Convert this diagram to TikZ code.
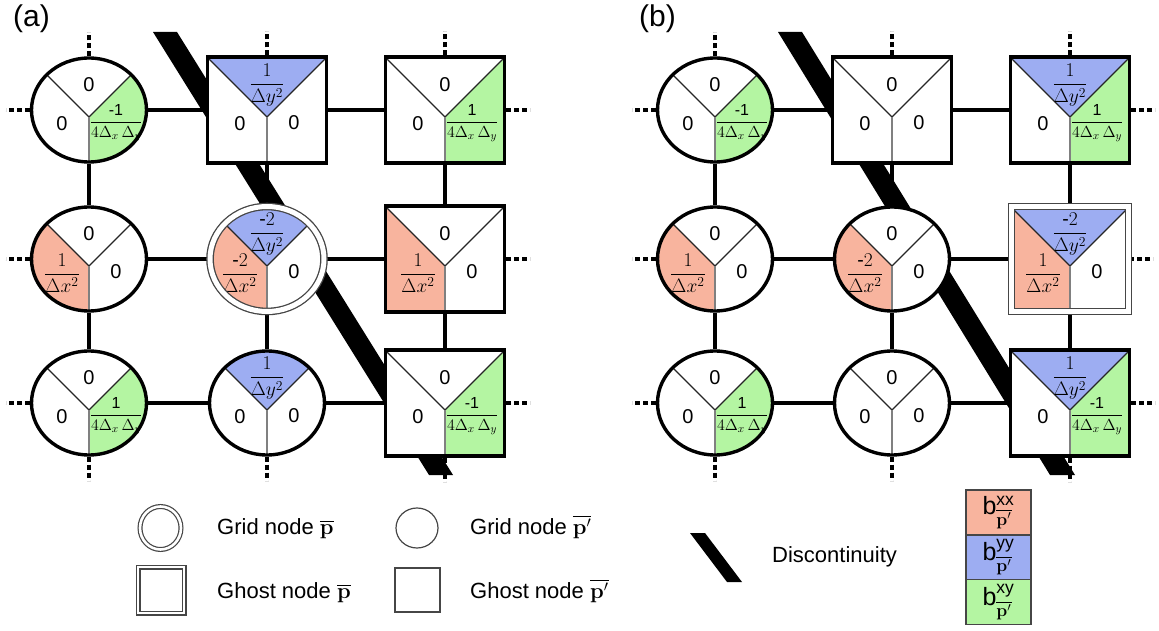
\RequirePackage{fix-cm}
\documentclass[tikz,border=0pt]{standalone}
\usepackage{amsmath}
\usepackage[no-math]{fontspec}
\setmainfont{Liberation Sans}
\usepackage{tikz}
\usetikzlibrary{shapes.geometric}
\definecolor{xxred}{RGB}{248,180,158}
\definecolor{yyblue}{RGB}{157,173,242}
\definecolor{xygreen}{RGB}{180,245,162}
\definecolor{rimgray}{RGB}{70,70,70}
\pgfdeclarelayer{back}
\pgfsetlayers{back,main}

% fractions written in the sectors
\newcommand{\fr}[2]{{\fontsize{19.5}{21}\selectfont$\dfrac{#1}{#2}$}}
\newcommand{\frxy}[1]{{\fontsize{16}{18}\selectfont$\dfrac{\text{#1}}{4\Delta_x\,\Delta_y}$}}

% three sectors of a node: name, clip, position, fills (top, left, right), texts
\newcommand{\sectors}[9]{%
  \begin{scope}[shift={(#3)}]
    \begin{scope}
      \clip #2;
      \fill[#4] (0,-7) -- (-110,103) -- (110,103) -- cycle;
      \fill[#5] (0,-7) -- (-110,103) -- (-110,-80) -- (0,-80) -- cycle;
      \fill[#6] (0,-7) -- (110,103) -- (110,-80) -- (0,-80) -- cycle;
      \draw[divider] (-110,103) -- (0,-7) -- (110,103);
      \draw[divider, draw=gray] (0,-7) -- (0,-80);
    \end{scope}
    \node[lbl] (#1t) at (0,25) {#7};
    \node[lbl] (#1l) at (-27,-14) {#8};
    \node[lbl] (#1r) at (27,-13) {#9};
  \end{scope}}
\newcommand{\ecell}[8]{%
  \sectors{#1}{(0,0) ellipse [x radius=57.5, y radius=52]}{#2}{#3}{#4}{#5}{#6}{#7}{#8}%
  \node[gridc] (#1) at (#2) {};}
\newcommand{\scell}[8]{%
  \sectors{#1}{(-59.5,-53) rectangle (59.5,53)}{#2}{#3}{#4}{#5}{#6}{#7}{#8}%
  \node[ghost] (#1) at (#2) {};}

\begin{document}
\begin{tikzpicture}[
    x=1pt, y=1pt,
    lbl/.style={font=\fontsize{20}{22}\selectfont, inner sep=0pt},
    legtxt/.style={font=\fontsize{22}{26}\selectfont, anchor=base west, inner sep=0pt},
    panel/.style={font=\fontsize{30}{34}\selectfont, inner sep=0pt},
    divider/.style={line width=1.1, draw=black!85},
    gridc/.style={ellipse, draw, line width=3.4, minimum width=115, minimum height=104, inner sep=0pt},
    ghost/.style={rectangle, draw, line width=3.4, minimum width=119, minimum height=106, inner sep=0pt},
    gridd/.style={ellipse, draw=rimgray, line width=1.3, double=white, double distance=5, minimum width=114, minimum height=105, inner sep=0pt},
    ghostd/.style={rectangle, draw=rimgray, line width=1.3, double=white, double distance=5, minimum width=117, minimum height=105, inner sep=0pt},
    keybox/.style={rectangle, draw=rimgray, line width=1.5, minimum width=65, minimum height=44.8, inner sep=0pt, font=\fontsize{25}{28}\selectfont},
    link/.style={line width=4},
    stub/.style={line width=4, dash pattern=on 5pt off 3pt}
]
    \useasboundingbox (0,0) rectangle (1159,630);

    % Panel (a)
    \node[panel] (lbla) at (31.5,611.5) {(a)};
    \ecell{a11}{89,520}{white}{white}{xygreen}{0}{0}{\frxy{-1}}
    \scell{a12}{267,520}{yyblue}{white}{white}{\fr{1}{\Delta y^2}}{0}{0}
    \scell{a13}{445,520}{white}{white}{xygreen}{0}{0}{\frxy{1}}
    \ecell{a21}{89,371}{white}{xxred}{white}{0}{\fr{1}{\Delta x^2}}{0}
    \sectors{a22}{(0,0) ellipse [x radius=54, y radius=49.5]}{267,371}{yyblue}{xxred}{white}{\fr{\text{-}2}{\Delta y^2}}{\fr{\text{-}2}{\Delta x^2}}{0}
    \node[gridd] (a22) at (267,371) {};
    \scell{a23}{445,371}{white}{xxred}{white}{0}{\fr{1}{\Delta x^2}}{0}
    \ecell{a31}{89,227}{white}{white}{xygreen}{0}{0}{\frxy{1}}
    \ecell{a32}{267,227}{yyblue}{white}{white}{\fr{1}{\Delta y^2}}{0}{0}
    \scell{a33}{445,227}{white}{white}{xygreen}{0}{0}{\frxy{-1}}

    % Panel (b)
    \node[panel] (lblb) at (657.5,611.5) {(b)};
    \ecell{b11}{715,520}{white}{white}{xygreen}{0}{0}{\frxy{-1}}
    \scell{b12}{892,520}{white}{white}{white}{0}{0}{0}
    \scell{b13}{1070,520}{yyblue}{white}{xygreen}{\fr{1}{\Delta y^2}}{0}{\frxy{1}}
    \ecell{b21}{715,371}{white}{xxred}{white}{0}{\fr{1}{\Delta x^2}}{0}
    \ecell{b22}{892,371}{white}{xxred}{white}{0}{\fr{\text{-}2}{\Delta x^2}}{0}
    \sectors{b23}{(-55,-49.5) rectangle (55,49.5)}{1070,371}{yyblue}{xxred}{white}{\fr{\text{-}2}{\Delta y^2}}{\fr{1}{\Delta x^2}}{0}
    \node[ghostd] (b23) at (1070,371) {};
    \ecell{b31}{715,227}{white}{white}{xygreen}{0}{0}{\frxy{1}}
    \ecell{b32}{892,227}{white}{white}{white}{0}{0}{0}
    \scell{b33}{1070,227}{yyblue}{white}{xygreen}{\fr{1}{\Delta y^2}}{0}{\frxy{-1}}

    % Links, open ends and discontinuity (behind the nodes)
    \begin{pgfonlayer}{back}
    \draw[link] (a11) -- (a12); \draw[link] (a12) -- (a13);
    \draw[link] (a21) -- (a22); \draw[link] (a22) -- (a23);
    \draw[link] (a31) -- (a32); \draw[link] (a32) -- (a33);
    \draw[link] (a11) -- (a21); \draw[link] (a21) -- (a31);
    \draw[link] (a12) -- (a22); \draw[link] (a22) -- (a32);
    \draw[link] (a13) -- (a23); \draw[link] (a23) -- (a33);
    \draw[link] (b11) -- (b12); \draw[link] (b12) -- (b13);
    \draw[link] (b21) -- (b22); \draw[link] (b22) -- (b23);
    \draw[link] (b31) -- (b32); \draw[link] (b32) -- (b33);
    \draw[link] (b11) -- (b21); \draw[link] (b21) -- (b31);
    \draw[link] (b12) -- (b22); \draw[link] (b22) -- (b32);
    \draw[link] (b13) -- (b23); \draw[link] (b23) -- (b33);

    \draw[stub] (a11.west) -- ++(-24,0); \draw[stub] (a21.west) -- ++(-24,0); \draw[stub] (a31.west) -- ++(-24,0);
    \draw[stub] (a13.east) -- ++(24,0); \draw[stub] (a23.east) -- ++(24,0); \draw[stub] (a33.east) -- ++(24,0);
    \draw[stub] (a11.north) -- ++(0,24); \draw[stub] (a12.north) -- ++(0,24); \draw[stub] (a13.north) -- ++(0,24);
    \draw[stub] (a31.south) -- ++(0,-24); \draw[stub] (a32.south) -- ++(0,-24); \draw[stub] (a33.south) -- ++(0,-24);
    \draw[stub] (b11.west) -- ++(-24,0); \draw[stub] (b21.west) -- ++(-24,0); \draw[stub] (b31.west) -- ++(-24,0);
    \draw[stub] (b13.east) -- ++(24,0); \draw[stub] (b23.east) -- ++(24,0); \draw[stub] (b33.east) -- ++(24,0);
    \draw[stub] (b11.north) -- ++(0,24); \draw[stub] (b12.north) -- ++(0,24); \draw[stub] (b13.north) -- ++(0,24);
    \draw[stub] (b31.south) -- ++(0,-24); \draw[stub] (b32.south) -- ++(0,-24); \draw[stub] (b33.south) -- ++(0,-24);

    \fill (153,598) -- (177,598) -- (453,155) -- (429,155) -- cycle;
    \fill (778,598) -- (802,598) -- (1075,155) -- (1050,155) -- cycle;
    \end{pgfonlayer}

    % Legend
    \node[ellipse, draw=rimgray, line width=1.2, double=white, double distance=2.6, minimum width=41, minimum height=43, inner sep=0pt] (kgrid) at (160.5,102) {};
    \node[legtxt] (tgrid) at (217,96) {Grid node $\overline{\mathbf{p}}$};
    \node[ellipse, draw=rimgray, line width=1.2, minimum width=42, minimum height=40, inner sep=0pt] (kgridp) at (417,102) {};
    \node[legtxt] (tgridp) at (470,96) {Grid node $\overline{\mathbf{p}'}$};
    \node[rectangle, draw=rimgray, line width=1.2, double=white, double distance=2.6, minimum width=46, minimum height=46, inner sep=0pt] (kghost) at (161,40) {};
    \node[legtxt] (tghost) at (217,32) {Ghost node $\overline{\mathbf{p}}$};
    \node[rectangle, draw=rimgray, line width=1.2, minimum width=45, minimum height=44, inner sep=0pt] (kghostp) at (417.5,40) {};
    \node[legtxt] (tghostp) at (470,32) {Ghost node $\overline{\mathbf{p}'}$};

    \fill (690,97) -- (705,97) -- (742,48) -- (727,48) -- cycle;
    \node[legtxt] (tdisc) at (772,68) {Discontinuity};

    \node[keybox, fill=xxred] (kxx) at (998.5,117.6) {b$^{\text{xx}}_{\overline{\mathbf{p}'}}$};
    \node[keybox, fill=yyblue] (kyy) at (998.5,72.8) {b$^{\text{yy}}_{\overline{\mathbf{p}'}}$};
    \node[keybox, fill=xygreen] (kxy) at (998.5,28.0) {b$^{\text{xy}}_{\overline{\mathbf{p}'}}$};
\end{tikzpicture}
\end{document}
